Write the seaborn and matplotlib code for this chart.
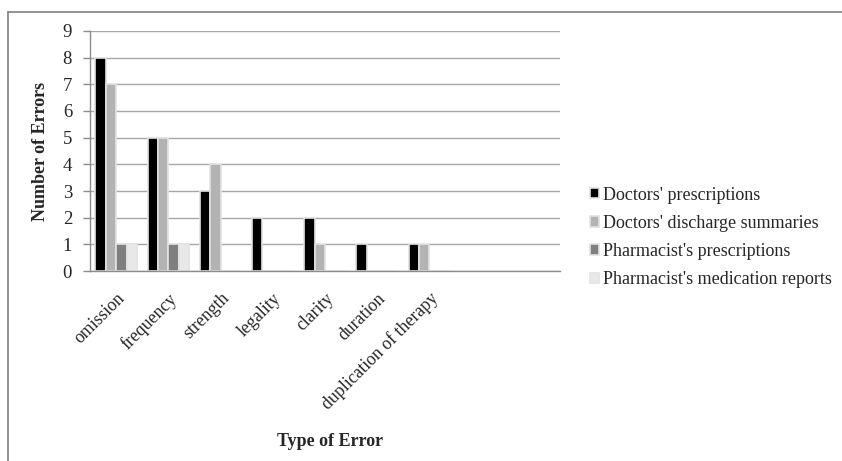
import pandas as pd
import numpy as np
import matplotlib.pyplot as plt
import seaborn as sns
from matplotlib.lines import Line2D

# data
error_types = ['omission', 'frequency', 'strength', 'legality', 'clarity',
               'duration', 'duplication of therapy']
doctors_prescriptions = [8, 5, 3, 2, 2, 1, 1]
doctors_discharge = [7, 5, 4, 0, 1, 0, 1]
pharm_prescriptions = [1, 1, 0, 0, 0, 0, 0]
pharm_reports = [1, 1, 0, 0, 0, 0, 0]

series_names = ["Doctors' prescriptions", "Doctors' discharge summaries",
                "Pharmacist's prescriptions", "Pharmacist's medication reports"]
colors = ['#000000', '#b3b3b3', '#7f7f7f', '#e8e8e8']

rows = []
for name, vals in zip(series_names, [doctors_prescriptions, doctors_discharge,
                                     pharm_prescriptions, pharm_reports]):
    for cat, v in zip(error_types, vals):
        rows.append({'type': cat, 'series': name, 'count': v})
df = pd.DataFrame(rows)

sns.set_style('white')
plt.rcParams['font.family'] = ['Liberation Serif', 'DejaVu Serif']

fig = plt.figure(figsize=(8.42, 4.61), dpi=100)
ax = fig.add_axes([0.107, 0.412, 0.558, 0.521])

sns.barplot(data=df, x='type', y='count', hue='series', order=error_types,
            hue_order=series_names, palette=colors, width=0.8,
            edgecolor='#e2e2e2', linewidth=1.2, ax=ax, legend=True)

ax.set_xlim(-0.5, 8.5)
ax.set_ylim(0, 9)
ax.set_yticks(range(0, 10))
ax.yaxis.grid(True, color='#a6a6a6', linewidth=1)
ax.set_axisbelow(True)
for s in ['top', 'right']:
    ax.spines[s].set_visible(False)
for s in ['left', 'bottom']:
    ax.spines[s].set_color('#8c8c8c')
    ax.spines[s].set_linewidth(1)

ax.tick_params(axis='y', which='major', left=True, length=5, width=1,
               color='#8c8c8c', pad=8, labelsize=13.5)
ax.tick_params(axis='x', bottom=False, labelsize=12.8, pad=10)
plt.setp(ax.get_xticklabels(), rotation=45, ha='right', va='top',
         rotation_mode='anchor')

ax.set_ylabel('Number of Errors', fontsize=13, fontweight='bold', labelpad=10)
ax.set_xlabel('Type of Error', fontsize=13, fontweight='bold')
ax.xaxis.set_label_coords(0.51, -0.675)

handles, labels = ax.get_legend_handles_labels()
ax.legend(handles=handles, labels=labels, loc='center left',
          bbox_to_anchor=(1.03, 0.14), frameon=False, fontsize=13,
          handlelength=0.5, handleheight=0.5, handletextpad=0.2,
          labelspacing=0.62)

# outer frame of the original figure (only top and left visible)
fig.add_artist(Line2D([8 / 842, 8 / 842], [0, 1 - 12 / 461], color='#808080',
                      linewidth=1.2, transform=fig.transFigure))
fig.add_artist(Line2D([8 / 842, 1], [1 - 12 / 461, 1 - 12 / 461], color='#808080',
                      linewidth=1.2, transform=fig.transFigure))

fig.savefig('out.png', dpi=100)
